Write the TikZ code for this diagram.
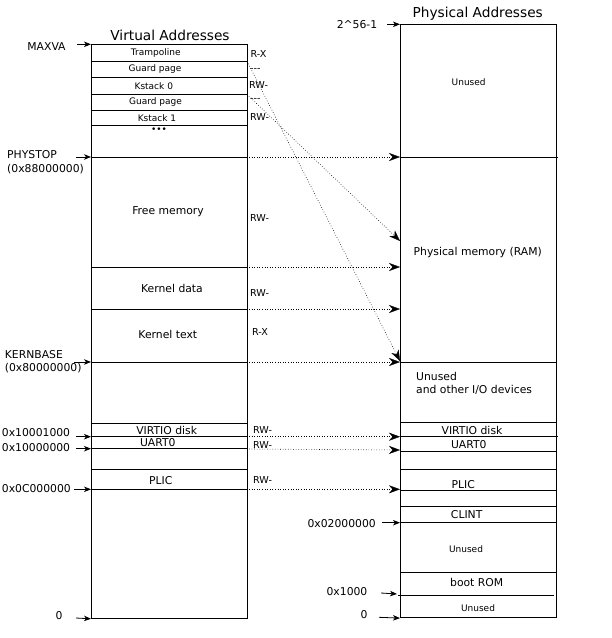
\documentclass[tikz,border=0pt]{standalone}
\usepackage{fontspec}
\setmainfont{DejaVu Sans}
\usetikzlibrary{arrows.meta}
\begin{document}
\begin{tikzpicture}[x=1pt,y=-1pt,
  frame/.style={draw=black, line width=0.8pt},
  small/.style={font=\fontsize{9}{10}\selectfont, inner sep=0pt},
  perm/.style={font=\fontsize{9.6}{11}\selectfont, inner sep=0pt, anchor=west},
  med/.style={font=\fontsize{10.8}{13}\selectfont, inner sep=0pt},
  ttl/.style={font=\fontsize{13.7}{16}\selectfont, inner sep=0pt},
  addr/.style={-{Stealth[length=7pt,width=5.5pt,inset=2pt]}, line width=0.8pt},
  map/.style={dotted, line width=0.6pt, -{Stealth[length=11pt,width=8pt,inset=3.5pt,line width=0.3pt]}},
]
\useasboundingbox (0,0) rectangle (612,638);

% ---------- virtual column ----------
\node[ttl] (vtitle) at (170,35.7) {Virtual Addresses};
\node[frame, minimum width=156pt, minimum height=573.7pt, anchor=north west, inner sep=0pt] (vbox) at (91,44.3) {};
\foreach \y/\n in {61.3/a,77/b,94.3/c,110.3/d,125/e,157/f,267/g,309/h,362/i,423/j,436.7/k,448.7/l,469.7/m,489.3/n}{
  \coordinate (vL\n) at (91,\y);
  \coordinate (vR\n) at (247,\y);
  \draw[frame] (vL\n) -- (vR\n);
}
\node[small] (tramp) at (155.8,53) {Trampoline};
\node[small] (guard0) at (155,69.5) {Guard page};
\node[small] (kst0) at (153.8,86) {Kstack 0};
\node[small] (guard1) at (155.5,102) {Guard page};
\node[small] (kst1) at (157,118) {Kstack 1};
\node[small] (dots) at (159,130.5) {•••};
\node[med] (free) at (168,211.7) {Free memory};
\node[med] (kdata) at (172,288) {Kernel data};
\node[med] (ktext) at (167.8,334.7) {Kernel text};
\node[med] (vvirtio) at (166.7,430) {VIRTIO disk};
\node[med] (vuart) at (157.8,442.3) {UART0};
\node[med] (vplic) at (160.8,480.7) {PLIC};

% permissions
\node[perm] (p1) at (250.5,54) {R-X};
\node[perm] (p2) at (250,70) {-{}-{}-};
\node[perm] (p3) at (249,85.3) {RW-};
\node[perm] (p4) at (250,100) {-{}-{}-};
\node[perm] (p5) at (250,116.7) {RW-};
\node[perm] (p6) at (250,218.3) {RW-};
\node[perm] (p7) at (250,293.3) {RW-};
\node[perm] (p8) at (252,332) {R-X};
\node[perm] (p9) at (253,430) {RW-};
\node[perm] (p10) at (253,445.3) {RW-};
\node[perm] (p11) at (253,480) {RW-};

% virtual address labels
\node[med] (lmaxva) at (46.5,46.7) {MAXVA};
\node[med, anchor=west] (lphys1) at (7,155) {PHYSTOP};
\node[med, anchor=west] (lphys2) at (7,169) {(0x88000000)};
\node[med, anchor=west] (lkb1) at (4.7,355) {KERNBASE};
\node[med, anchor=west] (lkb2) at (4.7,368) {(0x80000000)};
\node[med, anchor=west] (l1000) at (1.7,432.3) {0x10001000};
\node[med, anchor=west] (l0000) at (1.7,447.3) {0x10000000};
\node[med, anchor=west] (lc000) at (1.7,488.3) {0x0C000000};
\node[med] (lzero) at (59,616) {0};

\coordinate (aMAXVA) at (77,44.3);
\coordinate (aPHYS) at (76,157);
\coordinate (aKB) at (74,362);
\coordinate (a1000) at (76,436.7);
\coordinate (a0000) at (76,448.7);
\coordinate (aC000) at (74,489.3);
\coordinate (aZero) at (76,618);
\draw[addr] (aMAXVA) -- (vbox.north west);
\draw[addr] (aPHYS) -- (vLf);
\draw[addr] (aKB) -- (vLi);
\draw[addr] (a1000) -- (vLk);
\draw[addr] (a0000) -- (vLl);
\draw[addr] (aC000) -- (vLn);
\draw[addr] (aZero) -- (vbox.south west);

% ---------- physical column ----------
\node[ttl] (ptitle) at (477.7,14) {Physical Addresses};
\node[frame, minimum width=156pt, minimum height=593pt, anchor=north west, inner sep=0pt] (pbox) at (400,24.3) {};
\foreach \y/\n in {362/i,422.3/j,451.3/l,469.7/m,490/n,506/o,522.7/p,572/q}{
  \coordinate (pL\n) at (400,\y);
  \coordinate (pR\n) at (556,\y);
  \draw[frame] (pL\n) -- (pR\n);
}
\coordinate (pLf) at (400,157);
\coordinate (pRf) at (558,157);
\draw[frame] (pLf) -- (pRf);
\coordinate (pLk) at (400,436.7);
\coordinate (pRk) at (558,436.7);
\draw[frame] (pLk) -- (pRk);
\coordinate (pLr) at (398,595);
\coordinate (pRr) at (554,595);
\draw[frame] (pLr) -- (pRr);

\node[small] (punused1) at (468.7,81.7) {Unused};
\node[med] (pram) at (477.7,252.7) {Physical memory (RAM)};
\node[med, anchor=west] (pio1) at (416,376) {Unused};
\node[med, anchor=west] (pio2) at (416,390) {and other I/O devices};
\node[med] (pvirtio) at (472,430) {VIRTIO disk};
\node[med] (puart) at (468.8,445) {UART0};
\node[med] (pplic) at (463.3,484.3) {PLIC};
\node[med] (pclint) at (466.7,515) {CLINT};
\node[small] (punused2) at (466,549) {Unused};
\node[med] (prom) at (476.7,582.7) {boot ROM};
\node[small] (punused3) at (478,607.7) {Unused};

\node[med] (ltop) at (357,25) {2\textasciicircum 56-1};
\node[med, anchor=east] (l0200) at (376,523.3) {0x02000000};
\node[med] (l1000p) at (347,592) {0x1000};
\node[med] (lzerop) at (364,615) {0};

\coordinate (bTop) at (387,24.3);
\coordinate (b0200) at (382,522.7);
\coordinate (b1000) at (381,593);
\coordinate (b1000e) at (397,594);
\coordinate (bZero) at (379,617.3);
\draw[addr] (bTop) -- (pbox.north west);
\draw[addr] (b0200) -- (pLp);
\draw[addr] (b1000) -- (b1000e);
\draw[addr] (bZero) -- (pbox.south west);

% ---------- mappings ----------
\coordinate (mPHYS) at (249,157);
\coordinate (mKD) at (249,267);
\coordinate (mKT) at (249,309);
\coordinate (mKB) at (249,362);
\coordinate (mVIR) at (249,436.7);
\coordinate (mUART) at (249,449);
\coordinate (mUARTp) at (400,450);
\coordinate (mPLIC) at (249,489.3);
\coordinate (pKD) at (400,267);
\coordinate (pKT) at (400,309);
\coordinate (pPLIC) at (400,489.3);
\coordinate (pTramp) at (400,361);
\coordinate (pKst) at (400,241);
\draw[map] (mPHYS) -- (pLf);
\draw[map] (mKD) -- (pKD);
\draw[map] (mKT) -- (pKT);
\draw[map] (mKB) -- (pLi);
\draw[map] (mVIR) -- (pLk);
\draw[map] (mUART) -- (mUARTp);
\draw[map] (mPLIC) -- (pPLIC);
\draw[map] (vRa) -- (pTramp);
\draw[map] (vRc) -- (pKst);
\end{tikzpicture}
\end{document}
